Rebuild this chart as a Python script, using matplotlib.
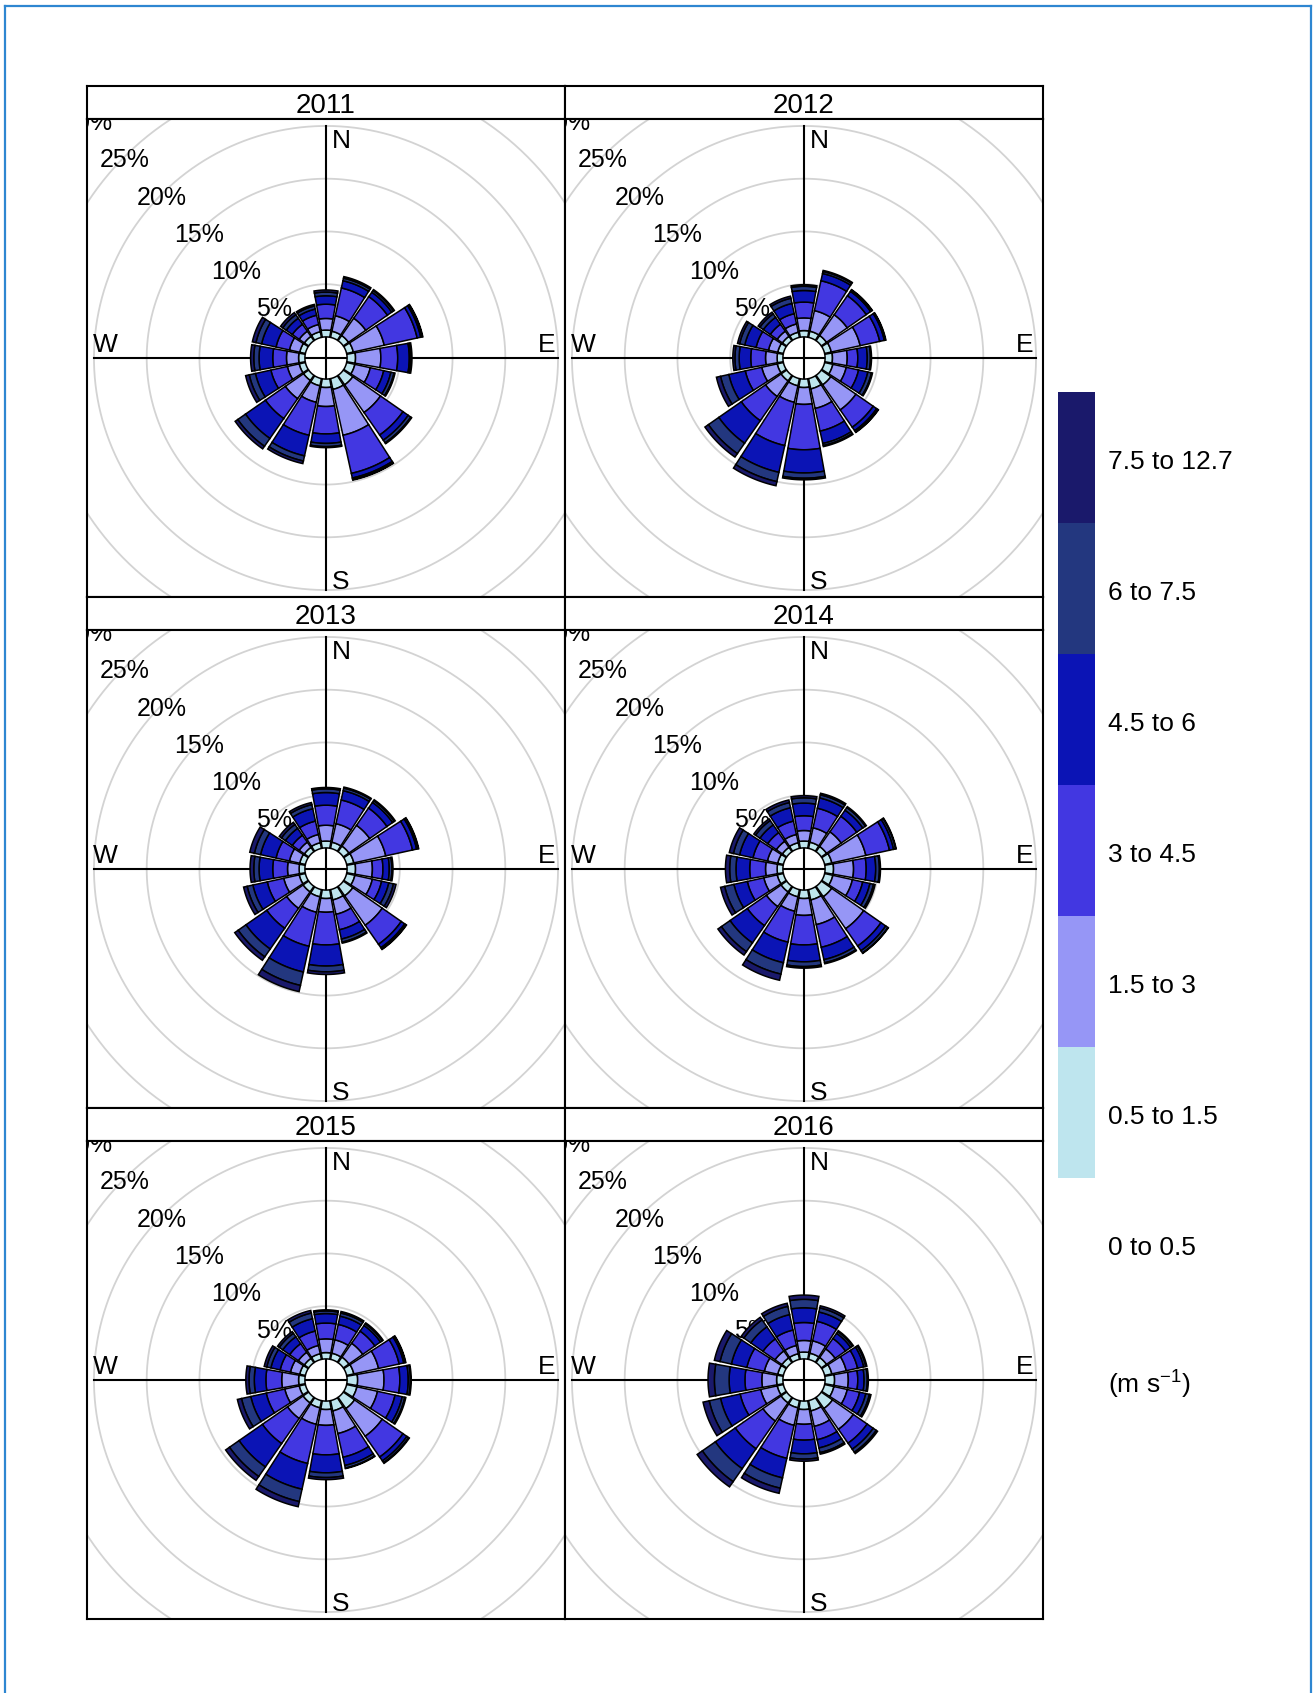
import numpy as np
import matplotlib
matplotlib.use("Agg")
import matplotlib.pyplot as plt
from matplotlib.patches import Polygon
from matplotlib.lines import Line2D

plt.rcParams['font.family'] = ['Liberation Sans', 'DejaVu Sans']
plt.rcParams['mathtext.default'] = 'regular'

# ---------------------------------------------------------------------------
# Data: frequency (%) per direction sector and wind-speed class, one table per year
# ---------------------------------------------------------------------------
years = ["2011", "2012", "2013", "2014", "2015", "2016"]
directions = ["N", "NNE", "NE", "ENE", "E", "ESE", "SE", "SSE",
              "S", "SSW", "SW", "WSW", "W", "WNW", "NW", "NNW"]
speed_labels = ["0 to 0.5", "0.5 to 1.5", "1.5 to 3", "3 to 4.5",
                "4.5 to 6", "6 to 7.5", "7.5 to 12.7"]
speed_colors = ["#FFFFFF", "#BEE5EE", "#9696F6", "#4237E1",
                "#0B14B5", "#23377F", "#1A196B"]

# columns: 0.5-1.5, 1.5-3, 3-4.5, 4.5-6, 6-7.5, 7.5-12.7
freq_2011 = [
    [0.65, 1.1, 1.35, 0.8, 0.35, 0.2],
    [0.6, 1.5, 2.7, 0.7, 0.25, 0.15],
    [0.6, 2.0, 2.5, 0.5, 0.2, 0.1],
    [0.65, 3.0, 3.2, 0.35, 0.15, 0.05],
    [0.8, 2.4, 1.6, 1.1, 0.15, 0.1],
    [0.8, 1.5, 1.3, 0.7, 0.3, 0.1],
    [1.1, 3.2, 2.6, 0.6, 0.3, 0.1],
    [1.05, 4.45, 3.7, 0.45, 0.15, 0.05],
    [0.8, 1.8, 2.6, 0.9, 0.3, 0.1],
    [0.7, 1.6, 3.2, 2.0, 0.5, 0.25],
    [0.6, 2.1, 2.3, 2.3, 0.9, 0.3],
    [0.6, 1.15, 1.6, 1.5, 0.6, 0.35],
    [0.6, 1.15, 1.3, 1.3, 0.5, 0.3],
    [0.55, 1.0, 1.3, 1.4, 0.55, 0.35],
    [0.5, 0.6, 0.8, 0.7, 0.4, 0.25],
    [0.55, 0.7, 0.9, 0.6, 0.3, 0.15],
]
freq_2012 = [
    [0.6, 1.2, 1.5, 1.1, 0.4, 0.15],
    [0.6, 2.0, 2.9, 0.7, 0.2, 0.1],
    [0.6, 2.4, 2.2, 0.5, 0.15, 0.05],
    [0.65, 2.8, 1.9, 0.45, 0.1, 0.05],
    [0.7, 1.4, 1.0, 0.9, 0.3, 0.1],
    [0.8, 1.3, 1.2, 0.9, 0.35, 0.1],
    [1.1, 2.9, 2.0, 0.4, 0.15, 0.05],
    [1.0, 1.9, 2.2, 1.2, 0.2, 0.1],
    [0.8, 1.6, 4.3, 2.2, 0.5, 0.15],
    [0.7, 1.6, 4.2, 2.6, 0.9, 0.4],
    [0.65, 1.8, 2.8, 2.6, 1.2, 0.4],
    [0.6, 1.5, 1.6, 1.6, 0.8, 0.4],
    [0.55, 1.1, 1.4, 1.1, 0.4, 0.2],
    [0.55, 0.9, 1.2, 1.1, 0.5, 0.2],
    [0.5, 0.6, 0.8, 0.8, 0.4, 0.2],
    [0.5, 0.8, 1.0, 1.0, 0.5, 0.2],
]
freq_2013 = [
    [0.65, 1.5, 1.9, 1.2, 0.35, 0.13],
    [0.6, 1.8, 2.3, 0.9, 0.25, 0.1],
    [0.65, 2.4, 2.0, 0.65, 0.2, 0.1],
    [0.7, 3.1, 2.6, 0.4, 0.15, 0.05],
    [0.8, 1.6, 1.0, 0.6, 0.25, 0.1],
    [0.8, 1.7, 0.9, 0.7, 0.45, 0.25],
    [1.1, 3.4, 2.2, 0.4, 0.15, 0.05],
    [1.0, 1.4, 1.5, 0.9, 0.3, 0.1],
    [0.8, 1.3, 3.1, 2.0, 0.55, 0.25],
    [0.7, 1.5, 3.3, 2.5, 1.3, 0.6],
    [0.65, 1.9, 2.3, 2.4, 0.9, 0.4],
    [0.6, 1.5, 1.6, 1.4, 0.55, 0.35],
    [0.55, 1.1, 1.4, 1.3, 0.5, 0.35],
    [0.55, 1.0, 1.3, 1.5, 0.6, 0.45],
    [0.5, 0.6, 0.8, 0.8, 0.45, 0.25],
    [0.55, 0.8, 1.3, 1.2, 0.4, 0.2],
]
freq_2014 = [
    [0.65, 1.0, 1.4, 1.2, 0.5, 0.2],
    [0.6, 1.4, 1.9, 1.0, 0.3, 0.15],
    [0.6, 1.7, 1.8, 0.7, 0.3, 0.1],
    [0.7, 3.3, 2.3, 0.4, 0.2, 0.05],
    [0.8, 1.9, 1.2, 0.9, 0.35, 0.1],
    [0.8, 1.9, 1.0, 0.7, 0.35, 0.15],
    [1.2, 3.7, 2.0, 0.55, 0.25, 0.05],
    [1.0, 2.4, 2.2, 1.2, 0.3, 0.1],
    [0.8, 1.6, 2.8, 1.6, 0.45, 0.15],
    [0.7, 1.4, 3.0, 2.0, 1.1, 0.6],
    [0.65, 1.7, 2.2, 2.0, 1.0, 0.4],
    [0.6, 1.3, 1.6, 1.3, 0.9, 0.4],
    [0.55, 1.1, 1.5, 1.3, 0.6, 0.4],
    [0.55, 1.0, 1.4, 1.3, 0.6, 0.4],
    [0.5, 0.7, 1.0, 0.9, 0.5, 0.2],
    [0.55, 0.8, 1.3, 1.3, 0.5, 0.25],
]
freq_2015 = [
    [0.6, 1.3, 1.5, 0.9, 0.25, 0.1],
    [0.6, 1.3, 1.5, 0.8, 0.3, 0.15],
    [0.65, 1.6, 1.4, 0.65, 0.2, 0.1],
    [0.7, 2.4, 2.0, 0.45, 0.15, 0.05],
    [1.0, 2.5, 1.5, 0.8, 0.2, 0.08],
    [1.0, 2.0, 1.7, 0.7, 0.25, 0.1],
    [1.3, 3.2, 2.4, 0.45, 0.2, 0.08],
    [1.0, 2.2, 2.3, 0.8, 0.25, 0.05],
    [0.8, 1.5, 2.8, 1.7, 0.45, 0.2],
    [0.7, 1.6, 3.8, 2.5, 1.2, 0.5],
    [0.65, 1.8, 2.9, 2.7, 1.1, 0.45],
    [0.6, 1.4, 1.8, 1.5, 0.9, 0.4],
    [0.6, 1.6, 1.5, 1.1, 0.5, 0.3],
    [0.55, 0.9, 1.0, 0.9, 0.4, 0.25],
    [0.5, 0.7, 1.0, 0.8, 0.4, 0.2],
    [0.55, 0.8, 1.4, 1.2, 0.55, 0.25],
]
freq_2016 = [
    [0.65, 1.1, 1.7, 1.4, 0.8, 0.4],
    [0.6, 1.2, 1.9, 0.9, 0.4, 0.2],
    [0.6, 1.0, 1.2, 0.6, 0.2, 0.1],
    [0.7, 1.4, 1.1, 0.6, 0.2, 0.1],
    [0.9, 1.3, 0.9, 0.6, 0.3, 0.1],
    [0.9, 1.3, 1.2, 0.6, 0.35, 0.15],
    [1.3, 2.4, 1.6, 0.7, 0.35, 0.15],
    [1.0, 1.5, 1.3, 0.8, 0.45, 0.15],
    [0.8, 1.4, 1.5, 1.3, 0.5, 0.2],
    [0.7, 1.7, 3.2, 1.9, 1.0, 0.5],
    [0.65, 2.1, 3.2, 2.3, 1.5, 0.6],
    [0.6, 1.6, 2.0, 1.9, 1.1, 0.6],
    [0.6, 1.4, 1.6, 1.5, 1.4, 0.6],
    [0.55, 1.3, 1.7, 1.5, 1.1, 0.55],
    [0.55, 0.8, 1.4, 1.4, 0.8, 0.3],
    [0.55, 0.8, 1.5, 1.5, 0.8, 0.3],
]
year_freqs = [freq_2011, freq_2012, freq_2013, freq_2014, freq_2015, freq_2016]

grid_levels = [5, 10, 15, 20, 25, 30]   # % circles
max_freq = 20.0
offset = 0.10 * max_freq                # central hole
axis_max = max_freq + offset
lim = 1.03 * axis_max
sector = 22.5
seg = 0.9

# ---------------------------------------------------------------------------
# Figure layout (pixels)
# ---------------------------------------------------------------------------
W, H = 1315, 1693
fig = plt.figure(figsize=(W / 100, H / 100), dpi=100)

x0, y0 = 87, 86
pw, strip_h = 478, 33
row_h = strip_h + pw


def fig_rect(left, top, width, height):
    return [left / W, 1 - (top + height) / H, width / W, height / H]


def draw_rose(ax, freqs):
    ax.set_xlim(-lim, lim)
    ax.set_ylim(-lim, lim)
    ax.set_aspect('equal')
    ax.set_xticks([])
    ax.set_yticks([])
    for s in ax.spines.values():
        s.set_linewidth(1.5)
    t = np.linspace(0, 2 * np.pi, 400)
    for lev in grid_levels:
        r = lev + offset
        ax.plot(r * np.sin(t), r * np.cos(t), color="#D3D3D3", lw=1.3, zorder=1)
    ax.plot([-axis_max, axis_max], [0, 0], color="black", lw=1.5, zorder=2)
    ax.plot([0, 0], [-axis_max, axis_max], color="black", lw=1.5, zorder=2)
    a = np.deg2rad(315)
    for lev in grid_levels:
        r = lev + offset
        ax.text(r * np.sin(a), r * np.cos(a) - 0.35, f"{lev}%", ha="center", va="center",
                fontsize=18, zorder=3, clip_on=True)
    ax.text(0.55, 0.95 * axis_max - 0.3, "N", ha="left", va="center", fontsize=19, zorder=3)
    ax.text(0.55, -0.95 * axis_max - 0.3, "S", ha="left", va="center", fontsize=19, zorder=3)
    ax.text(0.95 * axis_max, 1.25, "E", ha="center", va="center", fontsize=19, zorder=3)
    ax.text(-0.95 * axis_max, 1.25, "W", ha="center", va="center", fontsize=19, zorder=3)
    for i, row in enumerate(freqs):
        centre = i * sector
        th = np.deg2rad(np.linspace(centre - seg * sector / 2, centre + seg * sector / 2, 40))
        cum = np.concatenate([[0.0], np.cumsum(row)]) + offset
        for k in range(len(row)):
            r1, r2 = cum[k], cum[k + 1]
            xs = np.concatenate([r1 * np.sin(th), r2 * np.sin(th[::-1])])
            ys = np.concatenate([r1 * np.cos(th), r2 * np.cos(th[::-1])])
            ax.add_patch(Polygon(np.column_stack([xs, ys]), closed=True,
                                 facecolor=speed_colors[k + 1], edgecolor="black",
                                 lw=1.1, zorder=4))


for idx, (yr, freqs) in enumerate(zip(years, year_freqs)):
    r_i, c_i = divmod(idx, 2)
    left = x0 + c_i * pw
    top = y0 + r_i * row_h
    sax = fig.add_axes(fig_rect(left, top, pw, strip_h))
    sax.set_xticks([])
    sax.set_yticks([])
    for s in sax.spines.values():
        s.set_linewidth(1.5)
    sax.text(0.5, 0.38, yr, ha="center", va="center", fontsize=20, transform=sax.transAxes)
    ax = fig.add_axes(fig_rect(left, top + strip_h, pw, pw))
    draw_rose(ax, freqs)

# ---------------------------------------------------------------------------
# Speed legend
# ---------------------------------------------------------------------------
block = 131
leg_top = 392
n = len(speed_labels)
lax = fig.add_axes(fig_rect(1058, leg_top, 37, block * n))
for k in range(n):
    lax.bar(0, 1, bottom=k, width=1, color=speed_colors[k], edgecolor="none")
lax.set_xlim(-0.5, 0.5)
lax.set_ylim(0, n)
lax.axis("off")
tx = (1108 - 1058) / 37
for k, lab in enumerate(speed_labels):
    lax.text(tx, k + 0.5 - 0.035, lab, ha="left", va="center", fontsize=19,
             transform=lax.get_yaxis_transform())
lax.text(tx, -0.58, "(m s$^{-1}$)", ha="left", va="center", fontsize=19,
         transform=lax.get_yaxis_transform())

# outer frame
frame_col = "#2E86D1"
fig.add_artist(Line2D([5 / W, 5 / W], [0, 1 - 6 / H], color=frame_col, lw=1.6,
                      transform=fig.transFigure))
fig.add_artist(Line2D([1311 / W, 1311 / W], [0, 1 - 6 / H], color=frame_col, lw=1.6,
                      transform=fig.transFigure))
fig.add_artist(Line2D([5 / W, 1311 / W], [1 - 6 / H, 1 - 6 / H], color=frame_col, lw=1.6,
                      transform=fig.transFigure))

fig.savefig("out.png", dpi=100)
